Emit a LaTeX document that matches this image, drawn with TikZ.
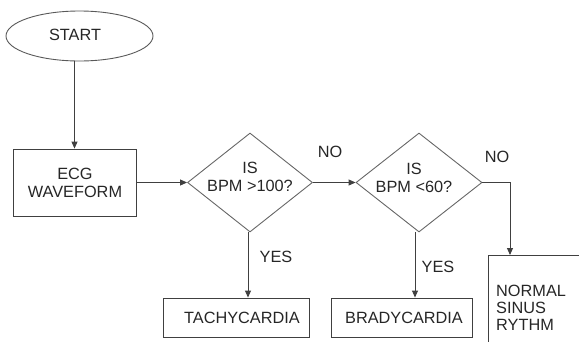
\documentclass[tikz,border=0pt]{standalone}
\usepackage{fontspec}
\setmainfont{Liberation Sans}
\usetikzlibrary{shapes.geometric,arrows.meta}
\begin{document}
\begin{tikzpicture}[x=1pt,y=-1pt,
  every node/.style={font=\fontsize{16.3}{20}\selectfont, text=black!85},
  ln/.style={draw=black!75, line width=0.9pt},
  arr/.style={ln, -{Triangle[length=7pt,width=6pt]}},
  boxn/.style={ln, rectangle, inner sep=0pt},
  dia/.style={ln, diamond, draw=black!60, inner sep=0pt, minimum width=125pt, minimum height=99pt},
  txt/.style={align=center, inner sep=0pt}
]
\useasboundingbox (0,0) rectangle (579,341);
\clip (0,0) rectangle (579,341);
\node[ln, ellipse, draw=black!65, minimum width=147pt, minimum height=50pt, inner sep=0pt] (start) at (79.5,36) {};
\node[txt] (starttxt) at (75,35) {START};
\node[boxn, minimum width=123pt, minimum height=67pt] (ecg) at (74.5,182.5) {};
\node[txt] (ecgtxt) at (75,183) {ECG\\[-2pt]WAVEFORM};
\node[dia] (d1) at (250,182.5) {};
\node[txt] (d1txt) at (250,177) {IS\\[-2pt]BPM >100?};
\node[dia, minimum width=126pt] (d2) at (419,182.5) {};
\node[txt] (d2txt) at (414,178) {IS\\[-2pt]BPM <60?};
\node[boxn, minimum width=146pt, minimum height=39pt] (tachy) at (236,317.5) {};
\node[txt] (tachytxt) at (242,318) {TACHYCARDIA};
\node[boxn, minimum width=141pt, minimum height=39pt] (brady) at (401.5,317.5) {};
\node[txt] (bradytxt) at (404,318) {BRADYCARDIA};
\node[boxn, anchor=north west, minimum width=300pt, minimum height=200pt] (nsr) at (488,255) {};
\node[txt, align=left, anchor=north west] (nsrtxt) at (496,285) {NORMAL\\[-3pt]SINUS\\[-3pt]RYTHM};
\node[txt] (no1) at (330,152) {NO};
\node[txt] (no2) at (497,157) {NO};
\node[txt] (yes1) at (276,257) {YES};
\node[txt] (yes2) at (438,267) {YES};
\draw[arr] (start.south -| ecg.north) -- (ecg.north);
\draw[arr] (ecg.east) -- (d1.west);
\draw[arr] (d1.east) -- (d2.west);
\draw[arr] (d1.south -| 248,0) -- (tachy.north -| 248,0);
\draw[arr] (d2.south -| 415,0) -- (brady.north -| 415,0);
\draw[arr] (d2.east) -| ([xshift=22pt]nsr.north west);
\end{tikzpicture}
\end{document}
